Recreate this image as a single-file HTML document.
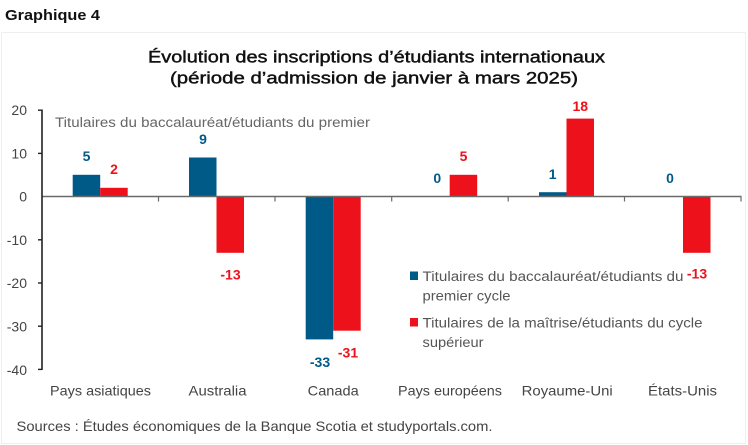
<!DOCTYPE html>
<html><head><meta charset="utf-8"><style>
html,body{margin:0;padding:0;background:#fff;}
svg{display:block;}
text{font-family:"Liberation Sans",sans-serif;}
</style></head><body>
<svg width="748" height="445" viewBox="0 0 748 445" xmlns="http://www.w3.org/2000/svg">
<rect x="0" y="0" width="748" height="445" fill="#fff"/>
<rect x="1.5" y="32.5" width="744" height="411" fill="none" stroke="#efefef" stroke-width="1"/>
<text x="5" y="20" font-size="15" font-weight="bold" fill="#111" textLength="95" lengthAdjust="spacingAndGlyphs">Graphique 4</text>
<text x="148" y="62.5" font-size="17" fill="#111" stroke="#111" stroke-width="0.45" textLength="457" lengthAdjust="spacingAndGlyphs">Évolution des inscriptions d’étudiants internationaux</text>
<text x="170" y="83.5" font-size="17" fill="#111" stroke="#111" stroke-width="0.45" textLength="408" lengthAdjust="spacingAndGlyphs">(période d’admission de janvier à mars 2025)</text>

<!-- y ticks labels -->
<g font-size="14" fill="#444" text-anchor="end">
<text x="27" y="115">20</text>
<text x="27" y="158.5">10</text>
<text x="27" y="201.5">0</text>
<text x="27" y="245">-10</text>
<text x="27" y="288">-20</text>
<text x="27" y="331.5">-30</text>
<text x="27" y="375">-40</text>
</g>

<text x="55" y="127" font-size="13.5" fill="#666" textLength="315" lengthAdjust="spacingAndGlyphs">Titulaires du baccalauréat/étudiants du premier</text>

<!-- bars -->
<g fill="#005a87">
<rect x="72.7" y="174.8" width="27.5" height="21.7"/>
<rect x="189" y="157.5" width="27.5" height="39"/>
<rect x="305.7" y="196.5" width="27.5" height="142.9"/>
<rect x="539" y="192.2" width="27.5" height="4.3"/>
</g>
<g fill="#ec111a">
<rect x="100.2" y="187.8" width="27.5" height="8.7"/>
<rect x="216.5" y="196.5" width="27.5" height="56.3"/>
<rect x="333.2" y="196.5" width="27.5" height="134.2"/>
<rect x="449.7" y="174.8" width="27.5" height="21.7"/>
<rect x="566.5" y="118.6" width="27.5" height="77.9"/>
<rect x="683" y="196.5" width="27.5" height="56.3"/>
</g>

<!-- axes -->
<line x1="42" y1="196.5" x2="741.5" y2="196.5" stroke="#6a6a6a" stroke-width="1.4"/>
<g stroke="#6a6a6a" stroke-width="1.2">
<line x1="158.5" y1="196.5" x2="158.5" y2="201.5"/>
<line x1="275" y1="196.5" x2="275" y2="201.5"/>
<line x1="391.7" y1="196.5" x2="391.7" y2="201.5"/>
<line x1="508.2" y1="196.5" x2="508.2" y2="201.5"/>
<line x1="624.5" y1="196.5" x2="624.5" y2="201.5"/>
<line x1="741" y1="196.5" x2="741" y2="201.5"/>
</g>
<line x1="42" y1="109.5" x2="42" y2="370" stroke="#222" stroke-width="1.6"/>
<g stroke="#222" stroke-width="1.4">
<line x1="38" y1="110.2" x2="42" y2="110.2"/>
<line x1="38" y1="153.4" x2="42" y2="153.4"/>
<line x1="38" y1="239.8" x2="42" y2="239.8"/>
<line x1="38" y1="283" x2="42" y2="283"/>
<line x1="38" y1="326.2" x2="42" y2="326.2"/>
<line x1="38" y1="369.4" x2="42" y2="369.4"/>
</g>

<!-- value labels -->
<g font-size="14" font-weight="bold" text-anchor="middle" fill="#005a87">
<text x="86.5" y="161">5</text>
<text x="203" y="144">9</text>
<text x="320" y="367">-33</text>
<text x="437.3" y="183">0</text>
<text x="552.7" y="179">1</text>
<text x="670" y="183">0</text>
</g>
<g font-size="14" font-weight="bold" text-anchor="middle" fill="#ec111a">
<text x="114" y="174">2</text>
<text x="230.5" y="279.5">-13</text>
<text x="348" y="357.5">-31</text>
<text x="463.5" y="161">5</text>
<text x="580.3" y="111">18</text>
<text x="697" y="278.5">-13</text>
</g>

<!-- legend -->
<rect x="410" y="271.5" width="8" height="8.5" fill="#005a87"/>
<rect x="410" y="318" width="8" height="8.5" fill="#ec111a"/>
<g font-size="13.5" fill="#555">
<text x="422.5" y="281" textLength="261" lengthAdjust="spacingAndGlyphs">Titulaires du baccalauréat/étudiants du</text>
<text x="422.5" y="300.5" textLength="88" lengthAdjust="spacingAndGlyphs">premier cycle</text>
<text x="422.5" y="327.5" textLength="280" lengthAdjust="spacingAndGlyphs">Titulaires de la maîtrise/étudiants du cycle</text>
<text x="422.5" y="347" textLength="61" lengthAdjust="spacingAndGlyphs">supérieur</text>
</g>

<!-- category labels -->
<g font-size="14" fill="#444">
<text x="50" y="395.5" textLength="101" lengthAdjust="spacingAndGlyphs">Pays asiatiques</text>
<text x="188.5" y="395.5" textLength="58" lengthAdjust="spacingAndGlyphs">Australia</text>
<text x="307.7" y="395.5" textLength="51" lengthAdjust="spacingAndGlyphs">Canada</text>
<text x="398" y="395.5" textLength="104" lengthAdjust="spacingAndGlyphs">Pays européens</text>
<text x="521.7" y="395.5" textLength="91" lengthAdjust="spacingAndGlyphs">Royaume-Uni</text>
<text x="648" y="395.5" textLength="69" lengthAdjust="spacingAndGlyphs">États-Unis</text>
</g>

<text x="16.5" y="431" font-size="14" fill="#444" textLength="476" lengthAdjust="spacingAndGlyphs">Sources : Études économiques de la Banque Scotia et studyportals.com.</text>
</svg>
</body></html>
